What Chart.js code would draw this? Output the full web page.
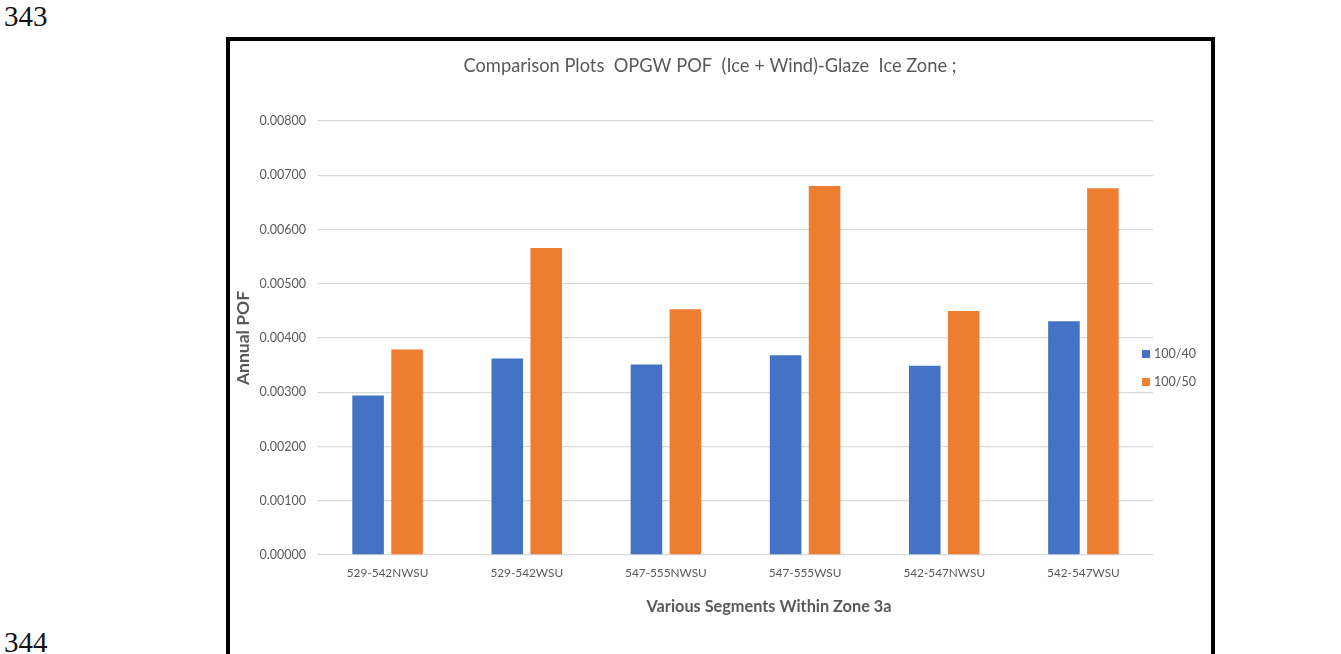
<!DOCTYPE html>
<html>
<head>
<meta charset="utf-8">
<script src="https://cdn.jsdelivr.net/npm/chart.js@4"></script>
<style>
    body { margin: 0; width: 1341px; height: 654px; overflow: hidden; position: relative; background: #fff; }
    .pagina { position: absolute; left: 4px; font-family: 'Liberation Serif', 'Times New Roman', serif; font-size: 29px; color: #111; }
    #cornice { position: absolute; left: 226px; top: 37px; width: 981px; height: 640px; border: 4px solid #000; }
    #chart { display: block; }
</style>
</head>
<body>
<div class="pagina" style="top: 0px;">343</div>
<div class="pagina" style="top: 626px;">344</div>
<div id="cornice"><canvas id="chart" width="981" height="613"></canvas></div>
<script>
const categorie = ['529-542NWSU', '529-542WSU', '547-555NWSU', '547-555WSU', '542-547NWSU', '542-547WSU'];
const pof100_40 = [0.00294, 0.00362, 0.00351, 0.00368, 0.00349, 0.00431];
const pof100_50 = [0.00379, 0.00566, 0.00453, 0.00680, 0.00450, 0.00676];
const serieLabel = ['100/40', '100/50'];
const yMin = 0, yMax = 0.008, yStep = 0.001;

const titolo = 'Comparison Plots  OPGW POF  (Ice + Wind)-Glaze  Ice Zone ;';
const titoloX = 'Various Segments Within Zone 3a';
const titoloY = 'Annual POF';

const grigio = '#595959';
const font = 'Lato';

// titoli e legenda disegnati a mano, come nel grafico di Excel
const decorazioni = {
    id: 'decorazioni',
    afterDraw(chart) {
        const c = chart.ctx;
        const area = chart.chartArea;
        c.save();
        c.fillStyle = grigio;
        c.textAlign = 'center';
        c.textBaseline = 'middle';

        c.font = `18.3px ${font}`;
        c.fillText(titolo, 480, 25);

        c.font = `bold 16.3px ${font}`;
        c.fillText(titoloX, area.left + 451, area.bottom + 52);

        c.font = `bold 17.5px ${font}`;
        c.translate(area.left - 75, (area.top + area.bottom) / 2);
        c.rotate(-Math.PI / 2);
        c.fillText(titoloY, 0, 0);
        c.restore();

        // legenda
        c.save();
        c.font = `12.5px ${font}`;
        c.textBaseline = 'middle';
        c.textAlign = 'left';
        chart.data.datasets.forEach((ds, i) => {
            const y = 313 + i * 28;
            c.fillStyle = ds.backgroundColor;
            c.fillRect(area.right - 11, y - 4, 8, 8);
            c.fillStyle = grigio;
            c.fillText(ds.label, area.right + 1, y);
        });
        c.restore();
    }
};

window.onload = () => {
    const ctx = document.getElementById('chart').getContext('2d');
    new Chart(ctx, {
        type: 'bar',
        data: {
            labels: categorie,
            datasets: [{
                label: serieLabel[0],
                data: pof100_40,
                backgroundColor: '#4472C4',
                categoryPercentage: 0.56,
                barPercentage: 0.81
            }, {
                label: serieLabel[1],
                data: pof100_50,
                backgroundColor: '#ED7D31',
                categoryPercentage: 0.56,
                barPercentage: 0.81
            }]
        },
        options: {
            responsive: false,
            animation: false,
            layout: { padding: { top: 80, right: 58, bottom: 69, left: 0 } },
            plugins: {
                legend: { display: false },
                title: { display: false },
                tooltip: { enabled: false }
            },
            scales: {
                x: {
                    grid: { display: false, drawTicks: false },
                    border: { display: false },
                    ticks: { color: grigio, font: { family: font, size: 11.8 }, padding: 11, maxRotation: 0, autoSkip: false },
                    afterFit: scale => { scale.height = 30; }
                },
                y: {
                    min: yMin,
                    max: yMax,
                    grid: { color: '#D9D9D9', lineWidth: 1.3, drawTicks: false },
                    border: { display: false },
                    ticks: {
                        stepSize: yStep,
                        color: grigio,
                        font: { family: font, size: 12.5 },
                        padding: 12,
                        callback: value => value.toFixed(5)
                    },
                    afterFit: scale => { scale.width = 88; }
                }
            }
        },
        plugins: [decorazioni]
    });
};
</script>
</body>
</html>
